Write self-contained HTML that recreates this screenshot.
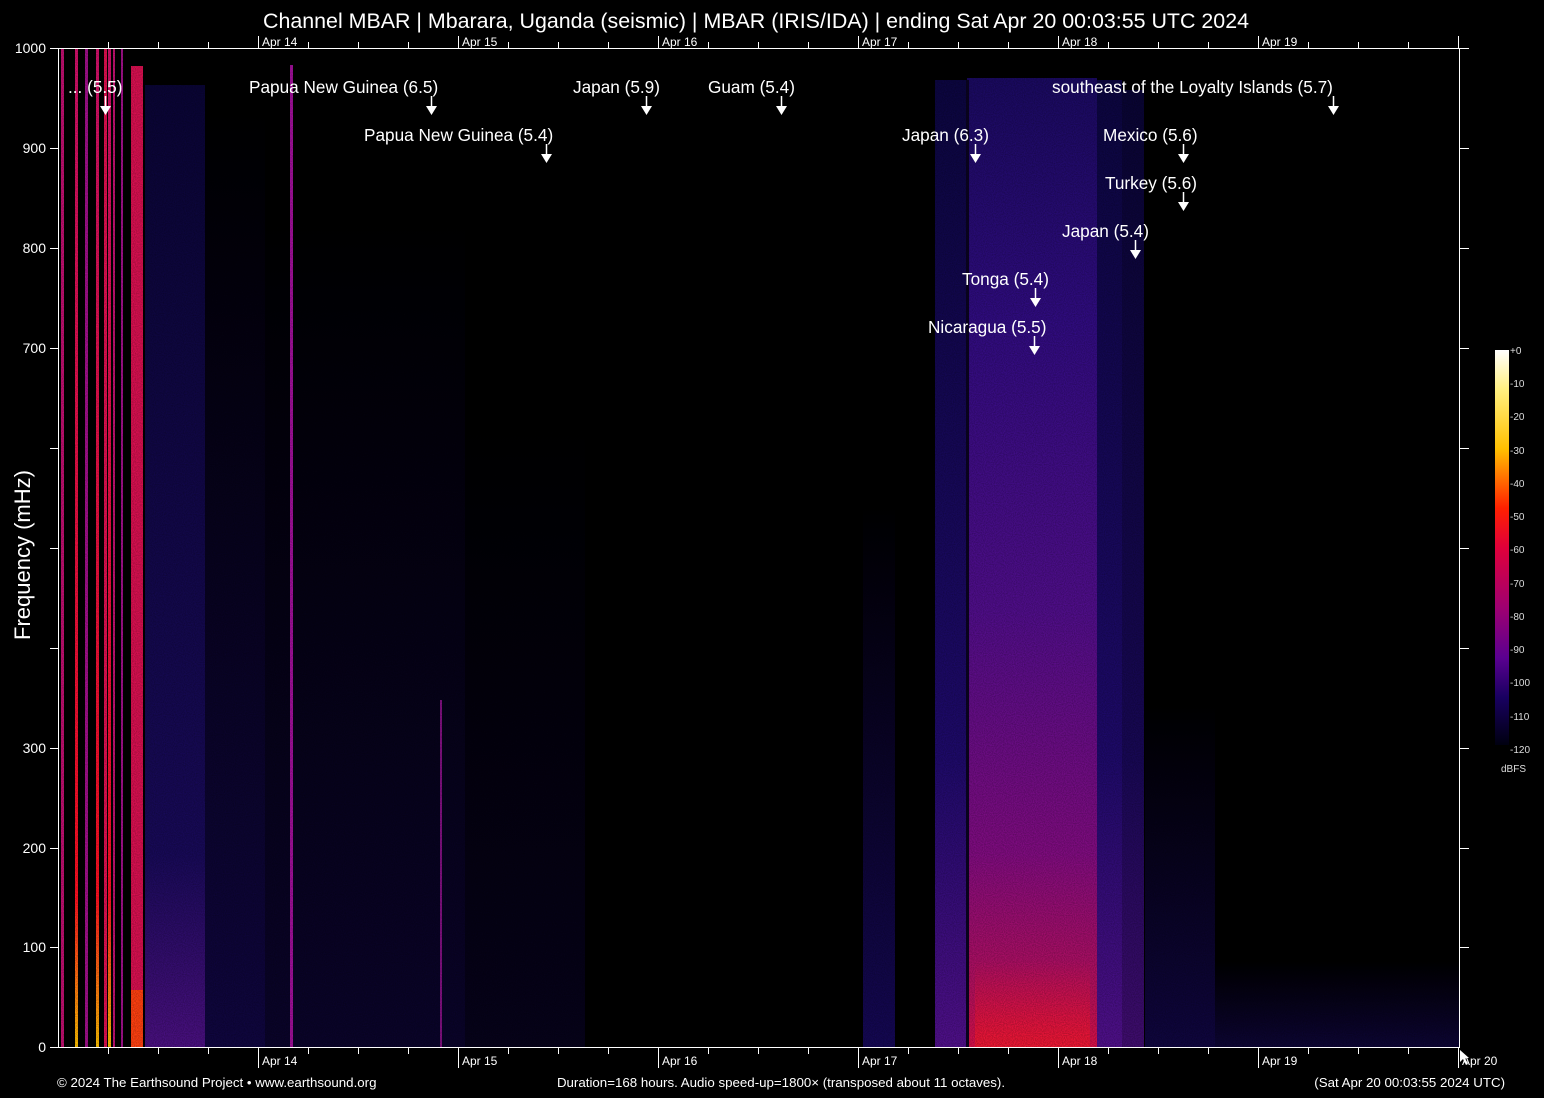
<!DOCTYPE html>
<html><head><meta charset="utf-8"><style>
html,body{margin:0;padding:0;background:#000;}
svg{display:block;font-family:"Liberation Sans",Arial,sans-serif;}
</style></head><body>
<svg width="1544" height="1098" viewBox="0 0 1544 1098" xmlns="http://www.w3.org/2000/svg">
<defs>
<linearGradient id="band" x1="0" y1="0" x2="0" y2="1">
<stop offset="0" stop-color="#1a0a60"/>
<stop offset="0.25" stop-color="#300c80"/>
<stop offset="0.55" stop-color="#500e8a"/>
<stop offset="0.8" stop-color="#800c80"/>
<stop offset="0.95" stop-color="#b8105a"/>
<stop offset="1" stop-color="#d81048"/>
</linearGradient>
<linearGradient id="side" x1="0" y1="0" x2="0" y2="1">
<stop offset="0" stop-color="#0c0640"/>
<stop offset="0.7" stop-color="#1e0a6a"/>
<stop offset="1" stop-color="#50108a"/>
</linearGradient>
<linearGradient id="redspot" x1="0" y1="0" x2="0" y2="1">
<stop offset="0" stop-color="#e01040" stop-opacity="0"/>
<stop offset="1" stop-color="#f01830" stop-opacity="0.9"/>
</linearGradient>
<linearGradient id="leftblue" x1="0" y1="0" x2="0" y2="1">
<stop offset="0" stop-color="#0a0535"/>
<stop offset="0.8" stop-color="#180a58"/>
<stop offset="1" stop-color="#4a1080"/>
</linearGradient>
<linearGradient id="faint" x1="0" y1="0" x2="0" y2="1">
<stop offset="0" stop-color="#000" />
<stop offset="1" stop-color="#1a0a6a"/>
</linearGradient>
<linearGradient id="cbar" x1="0" y1="0" x2="0" y2="1">
<stop offset="0" stop-color="#ffffff"/>
<stop offset="0.1" stop-color="#fff080"/>
<stop offset="0.25" stop-color="#ffc000"/>
<stop offset="0.4" stop-color="#ff2000"/>
<stop offset="0.5" stop-color="#e0003a"/>
<stop offset="0.65" stop-color="#a00070"/>
<stop offset="0.78" stop-color="#5a0090"/>
<stop offset="0.88" stop-color="#180060"/>
<stop offset="1" stop-color="#000010"/>
</linearGradient>
<linearGradient id="redline" x1="0" y1="0" x2="0" y2="1">
<stop offset="0" stop-color="#d0106a"/>
<stop offset="0.85" stop-color="#ff1020"/>
<stop offset="1" stop-color="#ffc000"/>
</linearGradient>
<filter id="noise"><feTurbulence type="fractalNoise" baseFrequency="0.9" numOctaves="1" seed="3"/><feColorMatrix values="0 0 0 0 0  0 0 0 0 0  0 0 0 0 0  0 0 0 -1.4 1"/><feComposite in2="SourceGraphic" operator="in"/></filter>
</defs>
<rect width="1544" height="1098" fill="#000"/>
<g>
<rect x="145" y="85" width="60" height="962" fill="url(#leftblue)"/>
<rect x="205" y="95" width="60" height="952" fill="url(#faint)" opacity="0.6"/>
<rect x="265" y="200" width="200" height="847" fill="url(#faint)" opacity="0.4"/>
<rect x="465" y="400" width="120" height="647" fill="url(#faint)" opacity="0.25"/>
<rect x="863" y="500" width="32" height="547" fill="url(#faint)" opacity="0.8"/>
<rect x="935" y="80" width="32" height="967" fill="url(#side)"/>
<rect x="967" y="78" width="130" height="969" fill="url(#band)"/>
<rect x="1097" y="80" width="25" height="967" fill="url(#side)"/>
<rect x="1122" y="90" width="22" height="957" fill="url(#side)" opacity="0.8"/>
<rect x="975" y="960" width="115" height="87" fill="url(#redspot)"/>
<rect x="1145" y="700" width="70" height="347" fill="url(#faint)" opacity="0.6"/>
<rect x="1215" y="960" width="244" height="87" fill="url(#faint)" opacity="0.5"/>
<rect x="966" y="80" width="3" height="967" fill="#0a0420"/>
<rect x="61" y="48" width="3" height="999" fill="#c01070"/>
<rect x="75" y="48" width="3" height="999" fill="url(#redline)"/>
<rect x="85" y="48" width="3" height="999" fill="#a0108a"/>
<rect x="96" y="48" width="3" height="999" fill="url(#redline)"/>
<rect x="104" y="48" width="3" height="999" fill="#e01050"/>
<rect x="108" y="48" width="3" height="999" fill="url(#redline)"/>
<rect x="113" y="48" width="2" height="999" fill="#c01070"/>
<rect x="121" y="48" width="2" height="999" fill="#a0108a"/>
<rect x="131" y="66" width="12" height="981" fill="#d81050"/>
<rect x="131" y="990" width="12" height="57" fill="#ff4010"/>
<rect x="290" y="65" width="3" height="982" fill="#a0109a"/>
<rect x="440" y="700" width="2" height="347" fill="#801080"/>
</g>
<rect x="58" y="48" width="1401" height="999" fill="#000" filter="url(#noise)" opacity="0.35"/>
<g stroke="#fff" stroke-width="1" fill="none">
<line x1="58.5" y1="48" x2="58.5" y2="1048"/>
<line x1="58" y1="48.5" x2="1460" y2="48.5"/>
<line x1="58" y1="1047.5" x2="1460" y2="1047.5"/>
<line x1="1459.5" y1="48" x2="1459.5" y2="1048"/>
</g>
<g stroke="#fff" stroke-width="1">
<line x1="50" y1="48.5" x2="58" y2="48.5"/><line x1="50" y1="148.5" x2="58" y2="148.5"/>
<line x1="50" y1="248.5" x2="58" y2="248.5"/><line x1="50" y1="348.5" x2="58" y2="348.5"/>
<line x1="50" y1="448.5" x2="58" y2="448.5"/><line x1="50" y1="548.5" x2="58" y2="548.5"/>
<line x1="50" y1="648.5" x2="58" y2="648.5"/><line x1="50" y1="748.5" x2="58" y2="748.5"/>
<line x1="50" y1="848.5" x2="58" y2="848.5"/><line x1="50" y1="947.5" x2="58" y2="947.5"/>
<line x1="50" y1="1047.5" x2="58" y2="1047.5"/>
<line x1="1459" y1="148.5" x2="1469" y2="148.5"/><line x1="1459" y1="248.5" x2="1469" y2="248.5"/>
<line x1="1459" y1="348.5" x2="1469" y2="348.5"/><line x1="1459" y1="448.5" x2="1469" y2="448.5"/>
<line x1="1459" y1="548.5" x2="1469" y2="548.5"/><line x1="1459" y1="648.5" x2="1469" y2="648.5"/>
<line x1="1459" y1="748.5" x2="1469" y2="748.5"/><line x1="1459" y1="848.5" x2="1469" y2="848.5"/>
<line x1="1459" y1="947.5" x2="1469" y2="947.5"/><line x1="1459" y1="48.5" x2="1469" y2="48.5"/>
</g>
<g stroke="#fff" stroke-width="1">
<path d="M108.5 42V48M158.5 42V48M208.5 42V48M308.5 42V48M358.5 42V48M408.5 42V48M508.5 42V48M558.5 42V48M608.5 42V48M708.5 42V48M758.5 42V48M808.5 42V48M908.5 42V48M958.5 42V48M1008.5 42V48M1108.5 42V48M1158.5 42V48M1208.5 42V48M1308.5 42V48M1358.5 42V48M1408.5 42V48"/>
<path d="M258.5 36V48M458.5 36V48M658.5 36V48M858.5 36V48M1058.5 36V48M1258.5 36V48M1458.5 36V48"/>
<path d="M108.5 1047V1054M158.5 1047V1054M208.5 1047V1054M308.5 1047V1054M358.5 1047V1054M408.5 1047V1054M508.5 1047V1054M558.5 1047V1054M608.5 1047V1054M708.5 1047V1054M758.5 1047V1054M808.5 1047V1054M908.5 1047V1054M958.5 1047V1054M1008.5 1047V1054M1108.5 1047V1054M1158.5 1047V1054M1208.5 1047V1054M1308.5 1047V1054M1358.5 1047V1054M1408.5 1047V1054"/>
<path d="M258.5 1047V1068M458.5 1047V1068M658.5 1047V1068M858.5 1047V1068M1058.5 1047V1068M1258.5 1047V1068M1458.5 1047V1068"/>
</g>
<g fill="#fff" font-size="12">
<text x="262" y="46">Apr 14</text><text x="462" y="46">Apr 15</text><text x="662" y="46">Apr 16</text>
<text x="862" y="46">Apr 17</text><text x="1062" y="46">Apr 18</text><text x="1262" y="46">Apr 19</text>
<text x="262" y="1065">Apr 14</text><text x="462" y="1065">Apr 15</text><text x="662" y="1065">Apr 16</text>
<text x="862" y="1065">Apr 17</text><text x="1062" y="1065">Apr 18</text><text x="1262" y="1065">Apr 19</text>
<text x="1462" y="1065">Apr 20</text>
</g>
<path d="M1460 1050 L1460 1062 L1463 1059 L1466 1065 L1468 1064 L1465 1058 L1469 1058 Z" fill="#fff"/>
<g fill="#fff" font-size="14" text-anchor="end">
<text x="46" y="53">1000</text><text x="46" y="153">900</text><text x="46" y="253">800</text>
<text x="46" y="353">700</text><text x="46" y="753">300</text><text x="46" y="853">200</text>
<text x="46" y="952">100</text><text x="46" y="1052">0</text>
</g>
<text transform="translate(30,555) rotate(-90)" fill="#fff" font-size="22" text-anchor="middle">Frequency (mHz)</text>
<text x="756" y="28" fill="#fff" font-size="21" text-anchor="middle" textLength="986" lengthAdjust="spacingAndGlyphs">Channel MBAR | Mbarara, Uganda (seismic) | MBAR (IRIS/IDA) | ending Sat Apr 20 00:03:55 UTC 2024</text>
<g fill="#fff" font-size="17.2">
<text x="68" y="93">... (5.5)</text>
<text x="249" y="93">Papua New Guinea (6.5)</text>
<text x="573" y="93">Japan (5.9)</text>
<text x="708" y="93">Guam (5.4)</text>
<text x="1052" y="93">southeast of the Loyalty Islands (5.7)</text>
<text x="364" y="141">Papua New Guinea (5.4)</text>
<text x="902" y="141">Japan (6.3)</text>
<text x="1103" y="141">Mexico (5.6)</text>
<text x="1105" y="189">Turkey (5.6)</text>
<text x="1062" y="237">Japan (5.4)</text>
<text x="962" y="285">Tonga (5.4)</text>
<text x="928" y="333">Nicaragua (5.5)</text>
</g>
<g stroke="#fff" stroke-width="1.5">
<path d="M105.5 96V107M431.5 96V107M646.5 96V107M781.5 96V107M1333.5 96V107M546.5 144V155M975.5 144V155M1183.5 144V155M1183.5 192V203M1135.5 240V251M1035.5 288V299M1034.5 336V347"/>
</g>
<g fill="#fff">
<path d="M100 106h11l-5.5 9z"/><path d="M426 106h11l-5.5 9z"/><path d="M641 106h11l-5.5 9z"/>
<path d="M776 106h11l-5.5 9z"/><path d="M1328 106h11l-5.5 9z"/><path d="M541 154h11l-5.5 9z"/>
<path d="M970 154h11l-5.5 9z"/><path d="M1178 154h11l-5.5 9z"/><path d="M1178 202h11l-5.5 9z"/>
<path d="M1130 250h11l-5.5 9z"/><path d="M1030 298h11l-5.5 9z"/><path d="M1029 346h11l-5.5 9z"/>
</g>
<rect x="1495" y="350" width="14" height="395" fill="url(#cbar)"/>
<g fill="#ddd" font-size="10">
<text x="1510" y="354">+0</text><text x="1510" y="387">-10</text><text x="1510" y="420">-20</text>
<text x="1510" y="454">-30</text><text x="1510" y="487">-40</text><text x="1510" y="520">-50</text>
<text x="1510" y="553">-60</text><text x="1510" y="587">-70</text><text x="1510" y="620">-80</text>
<text x="1510" y="653">-90</text><text x="1510" y="686">-100</text><text x="1510" y="720">-110</text>
<text x="1510" y="753">-120</text><text x="1501" y="772">dBFS</text>
</g>
<g fill="#fff" font-size="13.3">
<text x="57" y="1087">© 2024 The Earthsound Project • www.earthsound.org</text>
<text x="781" y="1087" text-anchor="middle">Duration=168 hours. Audio speed-up=1800× (transposed about 11 octaves).</text>
<text x="1505" y="1087" text-anchor="end">(Sat Apr 20 00:03:55 2024 UTC)</text>
</g>
</svg>
</body></html>
